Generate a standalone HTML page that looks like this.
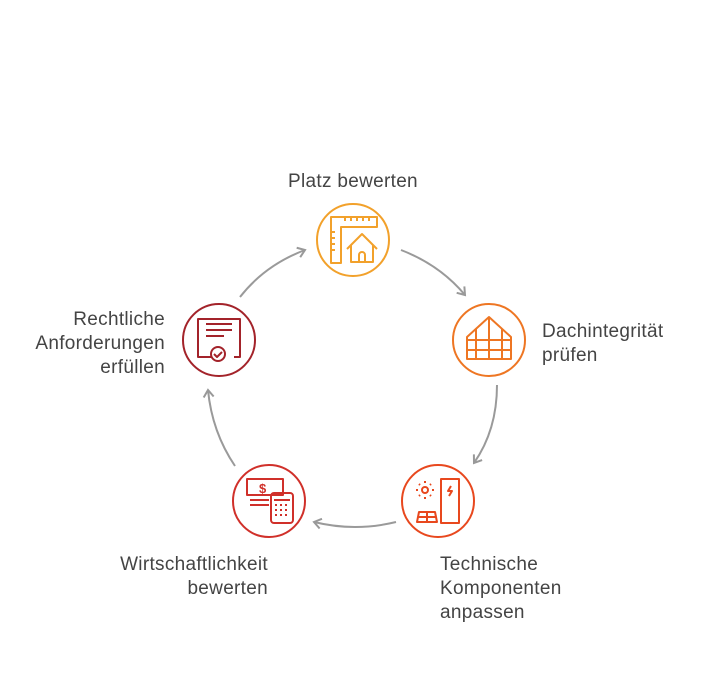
<!DOCTYPE html>
<html><head><style>
body{margin:0;background:#fff;}
svg text{font-family:"Liberation Sans",sans-serif;font-size:19px;letter-spacing:0.3px;fill:#444;}
</style></head><body>
<svg width="708" height="672" viewBox="0 0 708 672" xmlns="http://www.w3.org/2000/svg">
<defs><marker id="a" markerWidth="12" markerHeight="12" refX="9" refY="6" orient="auto" markerUnits="userSpaceOnUse"><path d="M2,1 L9,6 L2,11" fill="none" stroke="#999" stroke-width="2"/></marker></defs>
<g fill="none" stroke="#9a9a9a" stroke-width="2" marker-end="url(#a)">
<path d="M401,250 Q440,265 465,295"/>
<path d="M497,385 Q497,430 474,463"/>
<path d="M396,522 Q355,532 314,522"/>
<path d="M235,466 Q212,432 208,390"/>
<path d="M240,297 Q265,265 305,250"/>
</g>
<g fill="none" stroke-width="2">
<circle cx="353" cy="240" r="36" stroke="#F2A12B"/>
<g stroke="#F2A12B" stroke-linejoin="round">
<path d="M331,217 h46 v10 h-36 v36 h-10z"/>
<path d="M345,217v4 M351,217v4 M357,217v4 M363,217v4 M369,217v4 M331,232h4 M331,238h4 M331,244h4 M331,250h4"/>
<path d="M347,249 l15,-15 l15,15 M351,245 v17 h22 v-17"/>
<path d="M359,262 v-7 a3,3 0 0 1 6,0 v7"/>
</g>
<circle cx="489" cy="340" r="36" stroke="#EE7623"/>
<g stroke="#EE7623" stroke-linejoin="round">
<path d="M467,337 l22,-20 l22,20 v22 h-44z"/>
<path d="M476,329 v30 M489,317 v42 M502,329 v30 M467,340 h44 M467,350 h44"/>
</g>
<circle cx="438" cy="501" r="36" stroke="#E8481E"/>
<g stroke="#E8481E" stroke-linejoin="round">
<circle cx="425" cy="490" r="3"/>
<path d="M425,481v2 M425,497v2 M416,490h2 M432,490h2 M419,484l1,1 M430,495l1,1 M419,496l1,-1 M430,485l1,-1"/>
<path d="M441,479 h18 v44 h-18z"/>
<path d="M451,486 l-3,5 h4 l-3,5"/>
<path d="M417,522 l2,-10 h16 l2,10z M427,512v10 M418,517h18"/>
</g>
<circle cx="269" cy="501" r="36" stroke="#D0302A"/>
<g stroke="#D0302A" stroke-linejoin="round">
<path d="M247,479 h36 v16 h-36z"/>
<text x="259" y="493" style="font-size:13px;fill:#D0302A;stroke:none;font-weight:bold">$</text>
<path d="M250,500h19 M250,505h19"/>
<rect x="271" y="493" width="22" height="30" rx="3"/>
<path d="M274,500h16 M275,505h2 M280,505h2 M285,505h2 M275,510h2 M280,510h2 M285,510h2 M275,515h2 M280,515h2 M285,515h2"/>
</g>
<circle cx="219" cy="340" r="36" stroke="#A3232A"/>
<g stroke="#A3232A" stroke-linejoin="round">
<path d="M212,357 h-14 v-38 h42 v38 h-6"/>
<path d="M206,324h26 M206,330h26 M206,336h18"/>
<circle cx="218" cy="354" r="7"/>
<path d="M214,354 l3,3 l5,-5"/>
</g>
</g>
<text x="353" y="187" text-anchor="middle">Platz bewerten</text>
<text x="542" y="337">Dachintegrität</text>
<text x="542" y="361">prüfen</text>
<text x="440" y="570">Technische</text>
<text x="440" y="594">Komponenten</text>
<text x="440" y="618">anpassen</text>
<text x="268" y="570" text-anchor="end">Wirtschaftlichkeit</text>
<text x="268" y="594" text-anchor="end">bewerten</text>
<text x="165" y="325" text-anchor="end">Rechtliche</text>
<text x="165" y="349" text-anchor="end">Anforderungen</text>
<text x="165" y="373" text-anchor="end">erfüllen</text>
</svg>
</body></html>
